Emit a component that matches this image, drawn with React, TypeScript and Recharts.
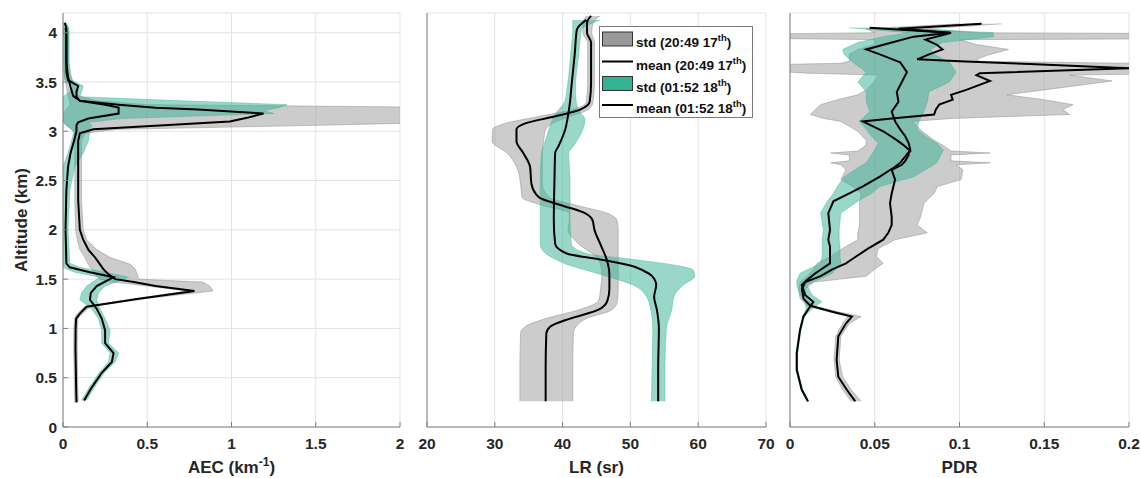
import React from 'react';
import { ComposedChart, Area, Line, XAxis, YAxis, CartesianGrid } from 'recharts';

const FONT = "'Liberation Sans', Arial, Helvetica, sans-serif";
const AXIS = '#808080';
const GRAY = '#999999';
const TEAL = '#34b294';

const altTicks = [0, 0.5, 1, 1.5, 2, 2.5, 3, 3.5, 4];
const aecTicks = [0, 0.5, 1, 1.5, 2];
const lrTicks = [20, 30, 40, 50, 60, 70];
const pdrTicks = [0, 0.05, 0.1, 0.15, 0.2];

// AEC (km-1), 20:49 17th
const aecAlt17 = [0.25, 0.4, 0.6, 0.8, 1.0, 1.1, 1.15, 1.22, 1.3, 1.38, 1.43, 1.47, 1.5, 1.55, 1.6, 1.65, 1.72, 1.8, 1.9, 2.0, 2.3, 2.6, 2.9, 2.98, 3.02, 3.06, 3.1, 3.14, 3.18, 3.22, 3.24, 3.27, 3.31, 3.36, 3.45, 3.55, 3.7, 3.9, 4.0, 4.05];
const aecLo17 = [0.07, 0.068, 0.066, 0.064, 0.065, 0.067, 0.085, 0.125, 0.42, 0.74, 0.5, 0.3, 0.22, 0.19, 0.17, 0.15, 0.13, 0.1, 0.085, 0.075, 0.07, 0.07, 0.07, 0.07, 0.05, 0.02, 0, 0, 0, 0.02, 0.03, 0.04, 0.04, 0.03, 0.02, 0.01, 0.005, 0.005, 0.005, 0];
const aecMean17 = [0.08, 0.078, 0.076, 0.074, 0.075, 0.078, 0.1, 0.14, 0.45, 0.78, 0.55, 0.42, 0.31, 0.27, 0.24, 0.22, 0.19, 0.15, 0.12, 0.1, 0.09, 0.09, 0.09, 0.1, 0.18, 0.6, 0.99, 1.1, 1.19, 0.8, 0.55, 0.33, 0.1, 0.06, 0.045, 0.03, 0.02, 0.02, 0.02, 0.015];
const aecHi17 = [0.09, 0.088, 0.086, 0.084, 0.085, 0.089, 0.115, 0.16, 0.48, 0.89, 0.87, 0.83, 0.45, 0.44, 0.43, 0.4, 0.28, 0.2, 0.14, 0.12, 0.11, 0.11, 0.11, 0.13, 0.32, 1.5, 2.5, 2.5, 2.5, 2.5, 2.5, 0.5, 0.2, 0.09, 0.07, 0.05, 0.035, 0.035, 0.035, 0.03];

// AEC (km-1), 01:52 18th
const aecAlt18 = [0.27, 0.4, 0.55, 0.66, 0.75, 0.85, 0.98, 1.1, 1.2, 1.29, 1.36, 1.43, 1.52, 1.57, 1.62, 1.66, 2.0, 2.4, 2.64, 2.78, 2.9, 3.0, 3.06, 3.09, 3.13, 3.18, 3.21, 3.24, 3.27, 3.31, 3.35, 3.4, 3.46, 3.52, 3.6, 3.9, 4.05, 4.1];
const aecLo18 = [0.11, 0.155, 0.215, 0.27, 0.28, 0.23, 0.23, 0.21, 0.17, 0.1, 0.11, 0.14, 0.22, 0.07, 0, 0, 0, 0, 0, 0.03, 0.05, 0.065, 0.02, 0, 0, 0, 0, 0, 0, 0, 0, 0.04, 0.06, 0.01, 0.005, 0.005, 0, 0];
const aecMean18 = [0.125, 0.17, 0.23, 0.29, 0.3, 0.25, 0.25, 0.23, 0.2, 0.16, 0.165, 0.2, 0.3, 0.16, 0.04, 0.02, 0.015, 0.02, 0.03, 0.045, 0.065, 0.08, 0.08, 0.09, 0.15, 0.33, 0.33, 0.33, 0.25, 0.1, 0.08, 0.08, 0.09, 0.03, 0.02, 0.02, 0.02, 0.01];
const aecHi18 = [0.14, 0.185, 0.245, 0.31, 0.33, 0.27, 0.28, 0.25, 0.22, 0.2, 0.21, 0.25, 0.39, 0.25, 0.1, 0.04, 0.03, 0.04, 0.07, 0.12, 0.15, 0.16, 0.17, 0.15, 0.35, 1.25, 1.19, 1.28, 1.33, 0.7, 0.1, 0.11, 0.12, 0.05, 0.035, 0.035, 0.035, 0.02];

// LR (sr), 20:49 17th
const lrAlt17 = [0.26, 0.6, 0.95, 1.02, 1.1, 1.19, 1.28, 1.4, 1.55, 1.7, 1.85, 2.0, 2.1, 2.17, 2.25, 2.33, 2.47, 2.64, 2.78, 2.9, 3.02, 3.08, 3.15, 3.22, 3.3, 3.5, 3.9, 4.0, 4.1, 4.17];
const lrLo17 = [33.7, 33.7, 33.8, 34.5, 37.5, 42.5, 45.3, 45.6, 45.8, 45.3, 42.5, 40.8, 41.0, 41.0, 37.0, 34.0, 33.8, 33.2, 31.8, 29.6, 29.7, 31.5, 36.5, 41.5, 43.5, 43.7, 43.7, 43.0, 43.0, 43.5];
const lrMean17 = [37.5, 37.5, 37.6, 38.2, 41.1, 45.3, 46.6, 46.9, 46.9, 46.5, 45.6, 44.7, 44.4, 43.3, 39.8, 36.5, 35.4, 35.2, 34.2, 33.2, 33.2, 34.5, 38.8, 42.6, 44.0, 44.2, 44.2, 43.6, 43.6, 44.2];
const lrHi17 = [41.5, 41.5, 41.6, 42.0, 43.5, 47.3, 48.1, 48.2, 48.2, 48.2, 48.2, 48.2, 48.0, 46.5, 42.0, 38.0, 37.0, 37.0, 37.0, 37.2, 37.5, 38.5, 41.0, 43.8, 44.5, 44.7, 44.7, 44.3, 44.5, 45.5];

// LR (sr), 01:52 18th
const lrAlt18 = [0.26, 0.6, 1.0, 1.19, 1.32, 1.44, 1.53, 1.59, 1.63, 1.7, 1.76, 1.86, 2.1, 2.5, 2.78, 2.85, 3.02, 3.12, 3.2, 3.3, 3.45, 3.79, 4.03, 4.13];
const lrLo18 = [53.1, 53.2, 53.3, 53.0, 52.4, 50.4, 46.5, 43.5, 41.5, 39.0, 37.5, 36.7, 36.7, 36.7, 36.9, 37.2, 38.0, 38.5, 39.2, 40.3, 40.7, 41.2, 41.5, 41.5];
const lrMean18 = [54.1, 54.1, 54.2, 53.9, 53.5, 53.8, 53.2, 51.8, 50.4, 45.5, 40.6, 38.9, 38.7, 38.8, 38.9, 39.4, 40.4, 40.7, 40.9, 41.1, 41.3, 41.8, 42.1, 43.5];
const lrHi18 = [55.1, 55.1, 55.3, 56.1, 56.4, 57.8, 59.5, 59.3, 57.5, 50.4, 43.5, 41.3, 41.1, 41.1, 40.9, 41.6, 43.0, 43.3, 42.5, 42.0, 41.9, 42.4, 42.8, 45.5];

// PDR, 20:49 17th
const pdrAlt17 = [0.26, 0.38, 0.51, 0.68, 0.92, 1.05, 1.12, 1.17, 1.23, 1.3, 1.4, 1.47, 1.53, 1.6, 1.66, 1.73, 1.81, 1.9, 1.97, 2.05, 2.13, 2.27, 2.37, 2.44, 2.51, 2.61, 2.66, 2.68, 2.7, 2.76, 2.78, 2.8, 2.86, 2.91, 3.0, 3.05, 3.1, 3.13, 3.17, 3.22, 3.27, 3.32, 3.37, 3.42, 3.51, 3.57, 3.59, 3.6, 3.64, 3.68, 3.69, 3.71, 3.73, 3.78, 3.83, 3.88, 3.93, 3.94, 3.99, 4.0, 4.04, 4.09];
const pdrLo17 = [0.036, 0.031, 0.027, 0.026, 0.027, 0.031, 0.034, 0.023, 0.01, 0.006, 0.005, 0.006, 0.01, 0.014, 0.016, 0.024, 0.031, 0.04, 0.04, 0.041, 0.041, 0.041, 0.042, 0.037, 0.03, 0.033, 0.03, 0.024, 0.035, 0.035, 0.024, 0.04, 0.045, 0.045, 0.04, 0.035, 0.03, 0.02, 0.012, 0.015, 0.018, 0.028, 0.04, 0.045, 0.05, 0.052, 0.01, 0, 0, 0, 0.03, 0.035, 0.035, 0.035, 0.04, 0.05, 0.05, 0, 0, 0.05, 0.045, 0.1];
const pdrMean17 = [0.0385, 0.0334, 0.0285, 0.0275, 0.0285, 0.033, 0.0365, 0.025, 0.012, 0.008, 0.007, 0.009, 0.018, 0.025, 0.033, 0.039, 0.046, 0.055, 0.058, 0.06, 0.06, 0.059, 0.06, 0.061, 0.062, 0.06, 0.066, 0.067, 0.068, 0.07, 0.07, 0.071, 0.067, 0.063, 0.055, 0.049, 0.043, 0.06, 0.085, 0.086, 0.088, 0.096, 0.095, 0.104, 0.118, 0.11, 0.112, 0.13, 0.2, 0.145, 0.13, 0.1, 0.075, 0.082, 0.09, 0.0865, 0.08, 0.082, 0.093, 0.095, 0.064, 0.113];
const pdrHi17 = [0.042, 0.036, 0.031, 0.029, 0.03, 0.035, 0.042, 0.028, 0.014, 0.01, 0.009, 0.014, 0.045, 0.05, 0.055, 0.051, 0.052, 0.062, 0.081, 0.075, 0.077, 0.079, 0.085, 0.087, 0.101, 0.102, 0.098, 0.118, 0.095, 0.095, 0.118, 0.095, 0.09, 0.085, 0.078, 0.075, 0.072, 0.095, 0.165, 0.161, 0.167, 0.15, 0.128, 0.15, 0.19, 0.165, 0.25, 0.25, 0.25, 0.25, 0.2, 0.112, 0.11, 0.118, 0.129, 0.11, 0.1, 0.25, 0.25, 0.11, 0.08, 0.125];

// PDR, 01:52 18th
const pdrAlt18 = [0.26, 0.38, 0.58, 0.75, 0.98, 1.12, 1.2, 1.27, 1.34, 1.44, 1.49, 1.56, 1.66, 1.73, 1.83, 1.9, 2.0, 2.17, 2.29, 2.37, 2.44, 2.54, 2.64, 2.68, 2.81, 2.88, 2.95, 3.02, 3.1, 3.2, 3.3, 3.4, 3.5, 3.6, 3.7, 3.78, 3.83, 3.9, 3.96, 4.0, 4.05];
const pdrLo18 = [0.01, 0.0064, 0.0035, 0.0035, 0.0054, 0.0074, 0.0095, 0.009, 0.006, 0.004, 0.004, 0.006, 0.018, 0.019, 0.019, 0.019, 0.0197, 0.018, 0.022, 0.0256, 0.028, 0.032, 0.041, 0.045, 0.05, 0.052, 0.048, 0.045, 0.041, 0.047, 0.045, 0.045, 0.04, 0.045, 0.037, 0.032, 0.031, 0.04, 0.055, 0.07, 0.035];
const pdrMean18 = [0.0106, 0.0069, 0.004, 0.004, 0.0059, 0.0079, 0.011, 0.0138, 0.0089, 0.0069, 0.0098, 0.015, 0.0236, 0.0236, 0.0236, 0.0226, 0.0236, 0.0226, 0.0256, 0.035, 0.043, 0.053, 0.062, 0.065, 0.071, 0.07, 0.068, 0.065, 0.062, 0.06, 0.064, 0.063, 0.066, 0.069, 0.065, 0.053, 0.045, 0.06, 0.073, 0.094, 0.047];
const pdrHi18 = [0.0112, 0.0074, 0.0045, 0.0045, 0.0064, 0.0084, 0.013, 0.0187, 0.013, 0.01, 0.016, 0.025, 0.03, 0.0295, 0.0295, 0.029, 0.029, 0.03, 0.04, 0.048, 0.053, 0.073, 0.083, 0.0865, 0.0905, 0.0865, 0.08, 0.075, 0.076, 0.079, 0.081, 0.082, 0.094, 0.098, 0.094, 0.085, 0.083, 0.09, 0.12, 0.12, 0.06];

type Row = { alt: number; band: [number, number]; mean: number };
const rows = (alt: number[], lo: number[], mean: number[], hi: number[]): Row[] =>
  alt.map((a, i) => ({ alt: a, band: [lo[i], hi[i]], mean: mean[i] }));

const tickFont = { fontSize: 15.5, fontWeight: 700, fill: '#262626', fontFamily: FONT };

type PanelProps = {
  left: number;
  width: number;
  yWidth: number;
  right: number;
  xDomain: [number, number];
  xTicks: number[];
  a: Row[];
  b: Row[];
  yLabels: boolean;
  curve: 'linear' | 'monotone';
};

function Panel(p: PanelProps) {
  return (
    <div style={{ position: 'absolute', left: p.left, top: 0 }}>
      <ComposedChart
        width={p.width}
        height={478}
        layout="vertical"
        margin={{ top: 13, right: p.right, bottom: 0, left: 0 }}
      >
        <CartesianGrid stroke="#e3e3e3" />
        <XAxis
          type="number"
          domain={p.xDomain}
          ticks={p.xTicks}
          allowDataOverflow
          interval={0}
          height={51}
          tickSize={-5}
          tickMargin={16}
          stroke={AXIS}
          tick={tickFont}
        />
        <XAxis
          xAxisId="top"
          orientation="top"
          type="number"
          domain={p.xDomain}
          ticks={p.xTicks}
          allowDataOverflow
          interval={0}
          height={0}
          tickSize={-5}
          tick={false}
          stroke={AXIS}
        />
        <YAxis
          type="number"
          dataKey="alt"
          reversed
          domain={[0, 4.2]}
          ticks={altTicks}
          allowDataOverflow
          interval={0}
          width={p.yWidth}
          tickSize={-5}
          tickMargin={11}
          stroke={AXIS}
          tick={p.yLabels ? tickFont : false}
        />
        <YAxis
          yAxisId="right"
          orientation="right"
          type="number"
          dataKey="alt"
          reversed
          domain={[0, 4.2]}
          ticks={altTicks}
          allowDataOverflow
          interval={0}
          width={0}
          tickSize={-5}
          tick={false}
          stroke={AXIS}
        />
        <Area data={p.a} dataKey="band" type={p.curve} fill={GRAY} fillOpacity={0.5}
          stroke="#8c8c8c" strokeOpacity={0.6} strokeWidth={0.8} isAnimationActive={false} />
        <Line data={p.a} dataKey="mean" type={p.curve} stroke="#000" strokeWidth={2}
          dot={false} activeDot={false} isAnimationActive={false} />
        <Area data={p.b} dataKey="band" type={p.curve} fill={TEAL} fillOpacity={0.5}
          stroke={TEAL} strokeOpacity={0.5} strokeWidth={0.8} isAnimationActive={false} />
        <Line data={p.b} dataKey="mean" type={p.curve} stroke="#000" strokeWidth={2}
          dot={false} activeDot={false} isAnimationActive={false} />
      </ComposedChart>
    </div>
  );
}

const legendItems = [
  { kind: 'box', color: GRAY, label: 'std (20:49 17', y: 39 },
  { kind: 'line', color: '#000', label: 'mean (20:49 17', y: 61.5 },
  { kind: 'box', color: TEAL, label: 'std (01:52 18', y: 83.5 },
  { kind: 'line', color: '#000', label: 'mean (01:52 18', y: 105 },
];

export default function App() {
  return (
    <div style={{ position: 'absolute', left: 0, top: 0, width: 1141, height: 478, background: '#fff' }}>
      <Panel left={0} width={410} yWidth={63} right={10} xDomain={[0, 2]} xTicks={aecTicks}
        a={rows(aecAlt17, aecLo17, aecMean17, aecHi17)} b={rows(aecAlt18, aecLo18, aecMean18, aecHi18)}
        yLabels curve="linear" />
      <Panel left={412} width={365} yWidth={15} right={11} xDomain={[20, 70]} xTicks={lrTicks}
        a={rows(lrAlt17, lrLo17, lrMean17, lrHi17)} b={rows(lrAlt18, lrLo18, lrMean18, lrHi18)}
        yLabels={false} curve="monotone" />
      <Panel left={778} width={363} yWidth={12} right={12} xDomain={[0, 0.2]} xTicks={pdrTicks}
        a={rows(pdrAlt17, pdrLo17, pdrMean17, pdrHi17)} b={rows(pdrAlt18, pdrLo18, pdrMean18, pdrHi18)}
        yLabels={false} curve="linear" />
      <svg width={1141} height={478} style={{ position: 'absolute', left: 0, top: 0, pointerEvents: 'none' }}
        fontFamily={FONT} fontWeight={700} fill="#262626">
        <text transform="rotate(-90)" x={-220} y={26.5} textAnchor="middle" fontSize={17}>Altitude (km)</text>
        <text x={231.5} y={473} textAnchor="middle" fontSize={17}>
          AEC (km<tspan dy={-7} fontSize={12}>-1</tspan><tspan dy={7}>)</tspan>
        </text>
        <text x={596.5} y={473} textAnchor="middle" fontSize={17}>LR (sr)</text>
        <text x={959.5} y={473} textAnchor="middle" fontSize={17}>PDR</text>
        <rect x={599.5} y={26.5} width={153} height={91} fill="#fff" stroke="#7a7a7a" strokeWidth={1} />
        {legendItems.map((it) => (
          <g key={it.label}>
            {it.kind === 'box' ? (
              <rect x={602.5} y={it.y - 7} width={30} height={14} fill={it.color} stroke="#333" strokeWidth={1} />
            ) : (
              <line x1={602} x2={633} y1={it.y} y2={it.y} stroke="#000" strokeWidth={2} />
            )}
            <text x={636} y={it.y + 8} fontSize={13.5} fill="#111">
              {it.label}
              <tspan dy={-6} fontSize={9.5}>th</tspan>
              <tspan dy={6}>)</tspan>
            </text>
          </g>
        ))}
      </svg>
    </div>
  );
}
